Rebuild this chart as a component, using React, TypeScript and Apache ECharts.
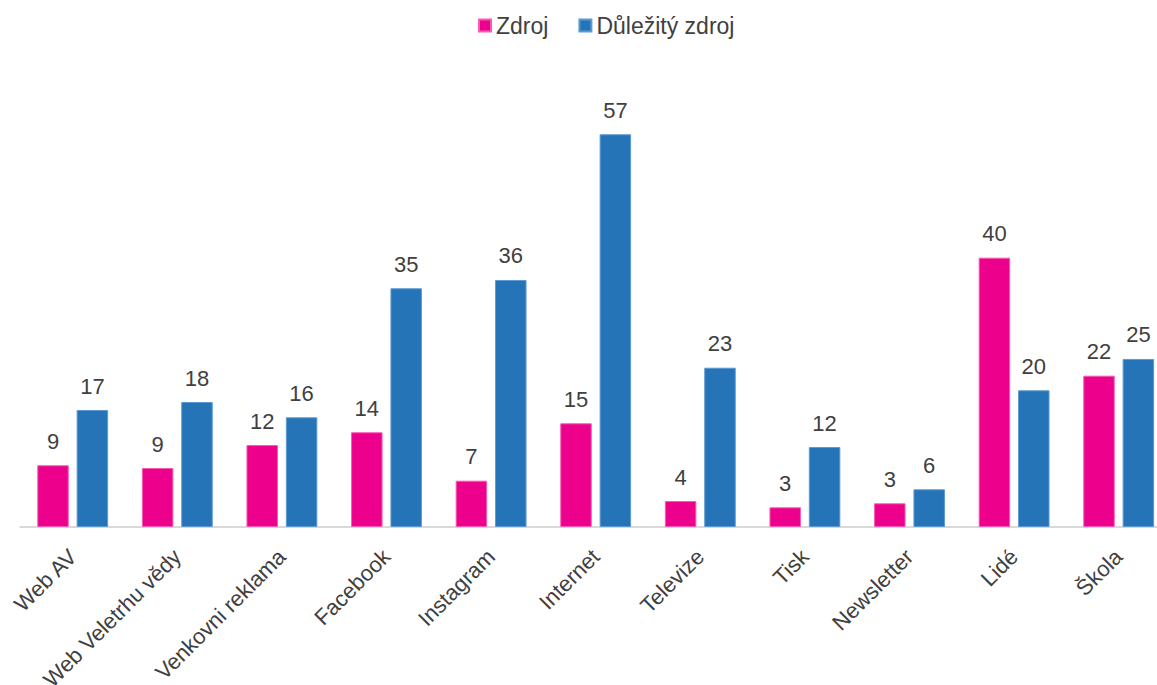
import React, { useEffect, useRef } from "react";
import * as echarts from "echarts";

const categories = [
  "Web AV",
  "Web Veletrhu vědy",
  "Venkovni reklama",
  "Facebook",
  "Instagram",
  "Internet",
  "Televize",
  "Tisk",
  "Newsletter",
  "Lidé",
  "Škola",
];

// bar heights
const zdroj = [8.96, 8.56, 11.9, 13.75, 6.72, 15.05, 3.77, 2.86, 3.44, 39.09, 21.96];
const dulezityZdroj = [16.98, 18.14, 15.92, 34.65, 35.85, 57, 23.12, 11.61, 5.47, 19.84, 24.39];

// value labels as printed on the picture
const zdrojLabels = [9, 9, 12, 14, 7, 15, 4, 3, 3, 40, 22];
const dulezityLabels = [17, 18, 16, 35, 36, 57, 23, 12, 6, 20, 25];

const seriesNames = ["Zdroj", "Důležitý zdroj"];

const PINK = "#EC008C";
const BLUE = "#2574B8";
const TEXT = "#404040";
const FONT = "'Liberation Sans', Arial, sans-serif";

export default function App() {
  const ref = useRef<HTMLDivElement>(null);

  useEffect(() => {
    document.body.style.margin = "0";
    if (!ref.current) return;
    const chart = echarts.init(ref.current, null, { renderer: "svg" });
    const labelStyle = (arr: number[]) => ({
      show: true,
      position: "top" as const,
      distance: 13,
      color: TEXT,
      fontSize: 22,
      fontFamily: FONT,
      formatter: (p: any) => String(arr[p.dataIndex]),
    });
    chart.setOption({
      animation: false,
      textStyle: { fontFamily: FONT },
      legend: {
        left: 478,
        top: 14,
        padding: 0,
        itemWidth: 12,
        itemHeight: 12,
        itemGap: 30,
        icon: "rect",
        textStyle: { color: TEXT, fontSize: 23, fontFamily: FONT },
        data: seriesNames,
      },
      grid: {
        left: 20.4,
        right: 0,
        top: 113.6,
        bottom: 158,
        containLabel: false,
        outerBoundsMode: "none",
      },
      xAxis: {
        type: "category",
        data: categories,
        axisLine: { lineStyle: { color: "#d9d9d9", width: 2 } },
        axisTick: { show: false },
        axisLabel: {
          rotate: 45,
          interval: 0,
          margin: 26,
          color: TEXT,
          fontSize: 22,
          fontFamily: FONT,
        },
      },
      yAxis: {
        type: "value",
        min: 0,
        max: 60,
        show: false,
        splitLine: { show: false },
      },
      series: [
        {
          name: seriesNames[0],
          type: "bar",
          data: zdroj,
          barWidth: 31.5,
          barGap: "25%",
          itemStyle: { color: PINK, borderColor: "#F45CB3", borderWidth: 1 },
          label: labelStyle(zdrojLabels),
        },
        {
          name: seriesNames[1],
          type: "bar",
          data: dulezityZdroj,
          barWidth: 31.5,
          barGap: "25%",
          itemStyle: { color: BLUE, borderColor: "#5D9AD3", borderWidth: 1 },
          label: labelStyle(dulezityLabels),
        },
      ],
    });
    return () => chart.dispose();
  }, []);

  return (
    <div style={{ width: 1157, height: 685, overflow: "hidden", position: "relative" }}>
      <div ref={ref} style={{ width: 1171.4, height: 685, position: "absolute", left: 0, top: 0 }} />
    </div>
  );
}
